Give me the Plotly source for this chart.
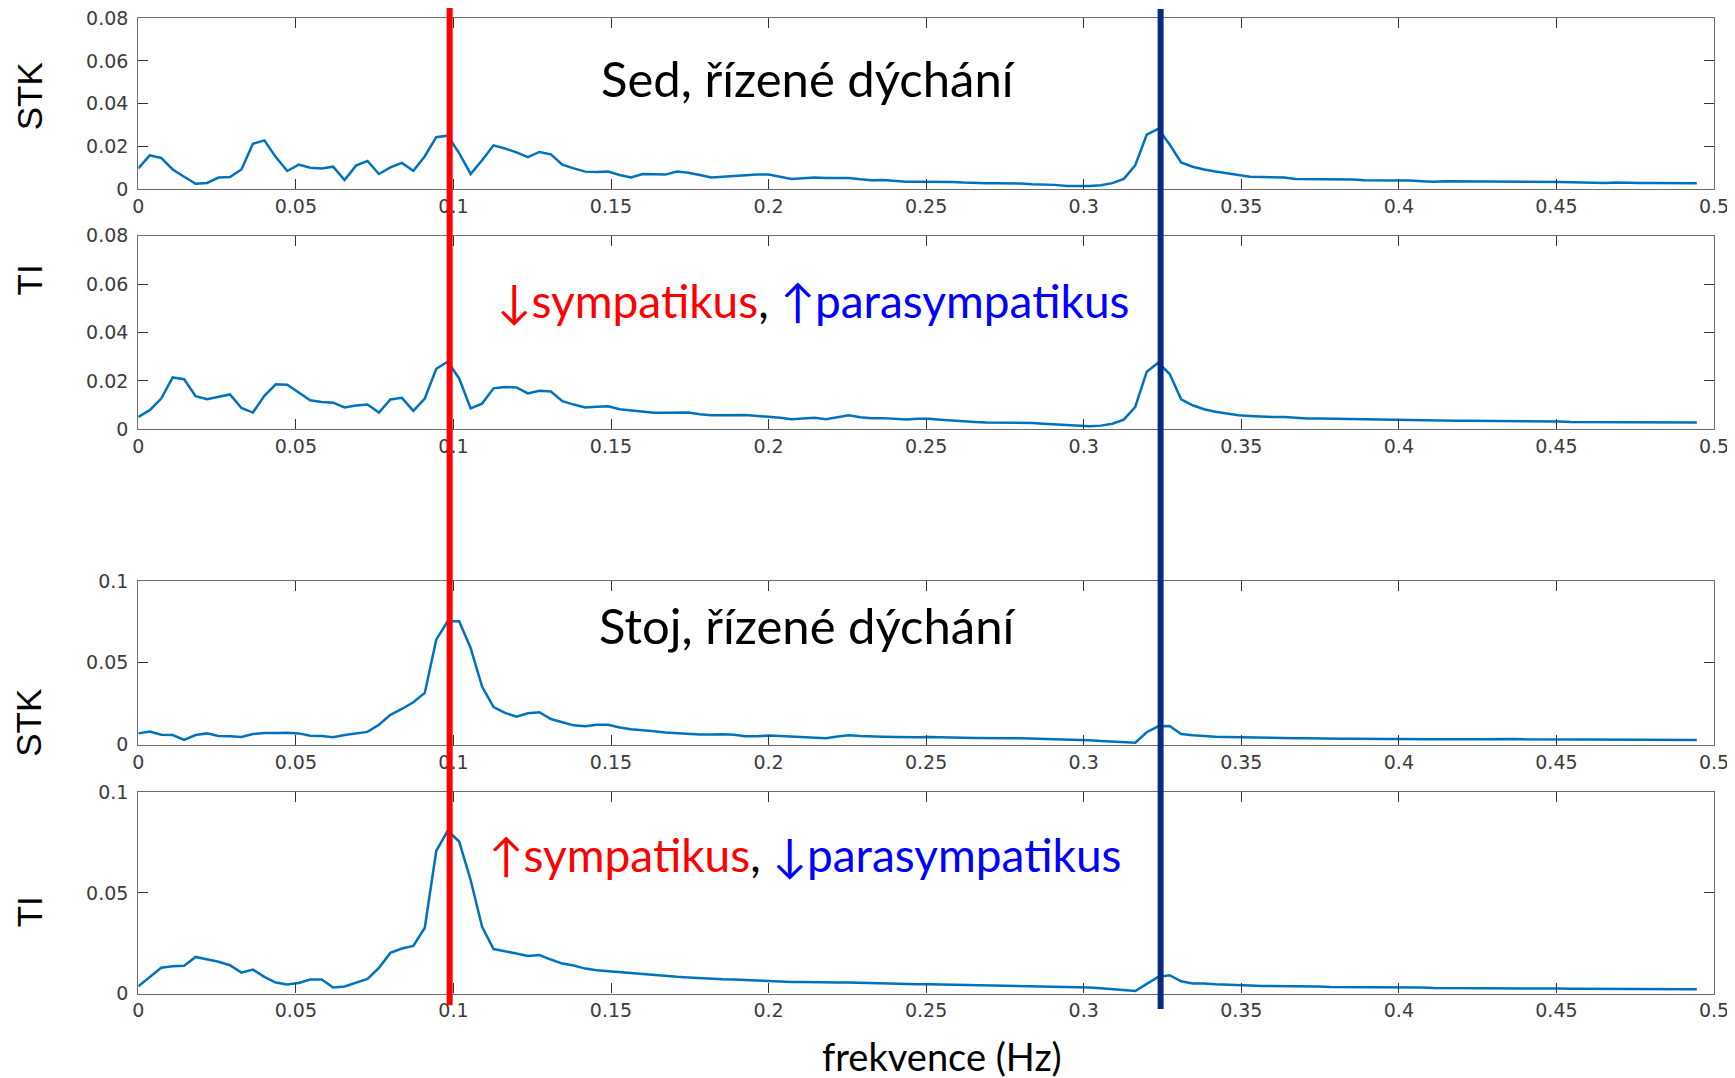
import plotly.graph_objects as go
from plotly.subplots import make_subplots

# spectral bins (Hz) and the two marked frequencies
FREQ_STEP = 1 / 275
RED_FREQ = 0.0988
BLUE_FREQ = 0.3244

STK_SED = [
    0.0097, 0.0158, 0.0146, 0.0092, 0.0058, 0.0025, 0.0029, 0.0054, 0.0057, 0.0092,
    0.0212, 0.0228, 0.0150, 0.0085, 0.0115, 0.0100, 0.0097, 0.0105, 0.0043, 0.0110,
    0.0132, 0.0071, 0.0102, 0.0123, 0.0086, 0.0154, 0.0243, 0.0250, 0.0169, 0.0071,
    0.0135, 0.0205, 0.0190, 0.0172, 0.0150, 0.0174, 0.0163, 0.0115, 0.0097, 0.0082,
    0.0080, 0.0082, 0.0066, 0.0055, 0.0071, 0.0071, 0.0068, 0.0082, 0.0077, 0.0066,
    0.0055, 0.0058, 0.0062, 0.0063, 0.0068, 0.0068, 0.0058, 0.0048, 0.0051, 0.0055,
    0.0052, 0.0052, 0.0052, 0.0046, 0.0042, 0.0043, 0.0038, 0.0035, 0.0035, 0.0035,
    0.0035, 0.0034, 0.0031, 0.0028, 0.0028, 0.0028, 0.0028, 0.0026, 0.0023, 0.0023,
    0.0020, 0.0015, 0.0014, 0.0015, 0.0018, 0.0028, 0.0048, 0.0112, 0.0255, 0.0282,
    0.0209, 0.0125, 0.0105, 0.0092, 0.0083, 0.0074, 0.0065, 0.0058, 0.0057, 0.0057,
    0.0054, 0.0048, 0.0048, 0.0046, 0.0046, 0.0046, 0.0045, 0.0042, 0.0042, 0.0042,
    0.0040, 0.0040, 0.0037, 0.0035, 0.0037, 0.0037, 0.0037, 0.0037, 0.0035, 0.0034,
    0.0034, 0.0034, 0.0034, 0.0034, 0.0034, 0.0032, 0.0031, 0.0029, 0.0029, 0.0031,
    0.0029, 0.0029, 0.0029, 0.0029, 0.0029, 0.0028, 0.0028,
]

TI_SED = [
    0.0051, 0.0079, 0.0127, 0.0214, 0.0207, 0.0137, 0.0124, 0.0134, 0.0144, 0.0088,
    0.0069, 0.0138, 0.0186, 0.0184, 0.0152, 0.0120, 0.0113, 0.0110, 0.0090, 0.0098,
    0.0102, 0.0069, 0.0123, 0.0130, 0.0076, 0.0127, 0.0250, 0.0279, 0.0210, 0.0086,
    0.0106, 0.0169, 0.0175, 0.0173, 0.0148, 0.0159, 0.0156, 0.0116, 0.0102, 0.0090,
    0.0093, 0.0095, 0.0083, 0.0079, 0.0073, 0.0068, 0.0068, 0.0069, 0.0069, 0.0062,
    0.0058, 0.0058, 0.0059, 0.0059, 0.0055, 0.0052, 0.0048, 0.0041, 0.0043, 0.0048,
    0.0041, 0.0050, 0.0058, 0.0050, 0.0046, 0.0046, 0.0043, 0.0040, 0.0043, 0.0043,
    0.0039, 0.0035, 0.0032, 0.0030, 0.0028, 0.0028, 0.0026, 0.0026, 0.0026, 0.0023,
    0.0021, 0.0018, 0.0014, 0.0012, 0.0015, 0.0023, 0.0040, 0.0093, 0.0238, 0.0275,
    0.0228, 0.0124, 0.0099, 0.0083, 0.0072, 0.0065, 0.0058, 0.0055, 0.0052, 0.0051,
    0.0051, 0.0046, 0.0044, 0.0044, 0.0043, 0.0043, 0.0041, 0.0040, 0.0040, 0.0040,
    0.0039, 0.0037, 0.0036, 0.0035, 0.0035, 0.0035, 0.0035, 0.0035, 0.0033, 0.0033,
    0.0033, 0.0032, 0.0032, 0.0032, 0.0032, 0.0030, 0.0030, 0.0030, 0.0030, 0.0029,
    0.0029, 0.0029, 0.0029, 0.0028, 0.0028, 0.0028, 0.0028,
]

STK_STOJ = [
    0.0069, 0.0080, 0.0061, 0.0059, 0.0029, 0.0059, 0.0069, 0.0053, 0.0051, 0.0047,
    0.0065, 0.0071, 0.0071, 0.0073, 0.0069, 0.0055, 0.0053, 0.0045, 0.0059, 0.0069,
    0.0078, 0.0122, 0.0182, 0.0218, 0.0259, 0.0316, 0.0641, 0.0753, 0.0753, 0.0590,
    0.0355, 0.0229, 0.0194, 0.0171, 0.0192, 0.0198, 0.0157, 0.0137, 0.0118, 0.0113,
    0.0122, 0.0122, 0.0105, 0.0094, 0.0090, 0.0082, 0.0075, 0.0070, 0.0066, 0.0062,
    0.0063, 0.0064, 0.0060, 0.0052, 0.0051, 0.0056, 0.0053, 0.0049, 0.0045, 0.0040,
    0.0039, 0.0050, 0.0057, 0.0053, 0.0049, 0.0049, 0.0047, 0.0045, 0.0045, 0.0047,
    0.0047, 0.0045, 0.0043, 0.0041, 0.0039, 0.0039, 0.0039, 0.0039, 0.0037, 0.0037,
    0.0037, 0.0035, 0.0031, 0.0027, 0.0022, 0.0018, 0.0015, 0.0012, 0.0076, 0.0112,
    0.0114, 0.0065, 0.0057, 0.0051, 0.0049, 0.0047, 0.0045, 0.0043, 0.0041, 0.0041,
    0.0039, 0.0039, 0.0039, 0.0037, 0.0037, 0.0037, 0.0037, 0.0035, 0.0035, 0.0035,
    0.0035, 0.0033, 0.0033, 0.0033, 0.0033, 0.0031, 0.0033, 0.0033, 0.0035, 0.0035,
    0.0035, 0.0033, 0.0033, 0.0033, 0.0033, 0.0033, 0.0031, 0.0031, 0.0031, 0.0031,
    0.0031, 0.0029, 0.0029, 0.0029, 0.0029, 0.0029, 0.0029,
]

TI_STOJ = [
    0.0036, 0.0083, 0.0128, 0.0136, 0.0138, 0.0182, 0.0171, 0.0158, 0.0141, 0.0104,
    0.0119, 0.0083, 0.0055, 0.0045, 0.0053, 0.0070, 0.0070, 0.0030, 0.0035, 0.0053,
    0.0073, 0.0128, 0.0202, 0.0224, 0.0237, 0.0327, 0.0708, 0.0808, 0.0755, 0.0564,
    0.0332, 0.0221, 0.0211, 0.0199, 0.0187, 0.0191, 0.0169, 0.0149, 0.0139, 0.0124,
    0.0116, 0.0111, 0.0108, 0.0101, 0.0095, 0.0091, 0.0088, 0.0083, 0.0080, 0.0076,
    0.0073, 0.0071, 0.0070, 0.0066, 0.0065, 0.0063, 0.0060, 0.0058, 0.0058, 0.0056,
    0.0056, 0.0055, 0.0055, 0.0053, 0.0051, 0.0050, 0.0050, 0.0048, 0.0046, 0.0046,
    0.0045, 0.0043, 0.0043, 0.0041, 0.0040, 0.0038, 0.0036, 0.0036, 0.0035, 0.0035,
    0.0033, 0.0033, 0.0032, 0.0030, 0.0027, 0.0023, 0.0020, 0.0013, 0.0048, 0.0083,
    0.0091, 0.0061, 0.0050, 0.0050, 0.0046, 0.0045, 0.0043, 0.0040, 0.0038, 0.0038,
    0.0036, 0.0036, 0.0035, 0.0035, 0.0033, 0.0033, 0.0033, 0.0032, 0.0032, 0.0032,
    0.0030, 0.0030, 0.0030, 0.0028, 0.0028, 0.0028, 0.0027, 0.0027, 0.0027, 0.0027,
    0.0025, 0.0025, 0.0025, 0.0025, 0.0025, 0.0024, 0.0024, 0.0024, 0.0024, 0.0023,
    0.0023, 0.0023, 0.0023, 0.0022, 0.0022, 0.0022, 0.0022,
]

SERIES = [STK_SED, TI_SED, STK_STOJ, TI_STOJ]
Y_RANGES = [[0, 0.08], [0, 0.08], [0, 0.1], [0, 0.1]]
Y_DTICKS = [0.02, 0.02, 0.05, 0.05]
Y_LABELS = ["STK", "TI", "STK", "TI"]

# page body adds an 8px margin, so the figure is 8px smaller than the window
W, H = 1727, 1070
X_DOMAIN = [130.3 / W, 1706 / W]
# (bottom, top) in paper fraction, top panel first
Y_DOMAINS = [(0.8307, 0.9905), (0.6063, 0.7872), (0.3115, 0.4646), (0.0789, 0.2671)]
Y_LABEL_POS = [0.9175, 0.7455, 0.332, 0.1549]

LINE_BLUE = "#0072BD"
TEXT_FONT = "Lato, Carlito, 'Open Sans', sans-serif"


def main():
    fig = make_subplots(rows=4, cols=1)

    for i, vals in enumerate(SERIES):
        fig.add_trace(go.Scatter(y=vals, x0=0, dx=FREQ_STEP, mode="lines",
                                 line=dict(color=LINE_BLUE, width=2.5),
                                 showlegend=False, hoverinfo="skip"),
                      row=i + 1, col=1)
        fig.update_xaxes(domain=X_DOMAIN, range=[0, 0.5], tick0=0, dtick=0.05,
                         row=i + 1, col=1)
        fig.update_yaxes(domain=list(Y_DOMAINS[i]), range=Y_RANGES[i], tick0=0,
                         dtick=Y_DTICKS[i], row=i + 1, col=1)

    axis_style = dict(ticks="inside", ticklen=10, tickwidth=1, tickcolor="#333333",
                      showline=True, linecolor="#6e6e6e", linewidth=1.2, mirror="ticks",
                      showgrid=False, zeroline=False, automargin=False,
                      ticklabeloverflow="allow",
                      tickfont=dict(family="DejaVu Sans", size=19, color="#3c3c3c"))
    fig.update_xaxes(**axis_style)
    fig.update_yaxes(ticklabelstandoff=5, **axis_style)

    # red / dark blue markers across all panels
    fig.add_shape(type="line", xref="x", yref="paper", x0=RED_FREQ, x1=RED_FREQ,
                  y0=0.068, y1=1.0, line=dict(color="#ff0000", width=6))
    fig.add_shape(type="line", xref="x", yref="paper", x0=BLUE_FREQ, x1=BLUE_FREQ,
                  y0=0.0645, y1=0.999, line=dict(color="#0a2a82", width=6))

    for label, ypos in zip(Y_LABELS, Y_LABEL_POS):
        fig.add_annotation(text=label, x=0.0122, y=ypos, xref="paper", yref="paper",
                           xanchor="center", yanchor="middle",
                           textangle=-90, showarrow=False,
                           font=dict(family="Liberation Sans", size=35, color="black"))

    notes = [
        ("Sed, řízené dýchání", 0.4635, 0.935, 49),
        ('<span style="color:#ff0000">↓sympatikus</span>, '
         '<span style="color:#0000ff">↑parasympatikus</span>', 0.4661, 0.7265, 46),
        ("Stoj, řízené dýchání", 0.4632, 0.4236, 49),
        ('<span style="color:#ff0000">↑sympatikus</span>, '
         '<span style="color:#0000ff">↓parasympatikus</span>', 0.4617, 0.2091, 46),
    ]
    for text, xp, yp, size in notes:
        fig.add_annotation(text=text, x=xp, y=yp, xref="paper", yref="paper",
                           xanchor="center", yanchor="middle", showarrow=False,
                           font=dict(family=TEXT_FONT, size=size, color="black"))

    fig.add_annotation(text="frekvence (Hz)", x=934.3 / W, y=0.0206, xref="paper",
                       yref="paper", xanchor="center", yanchor="middle",
                       showarrow=False,
                       font=dict(family=TEXT_FONT, size=38, color="black"))

    fig.update_layout(width=W, height=H, margin=dict(l=0, r=0, t=0, b=0),
                      plot_bgcolor="white", paper_bgcolor="white")
    fig.write_html("out.html")


if __name__ == "__main__":
    main()
